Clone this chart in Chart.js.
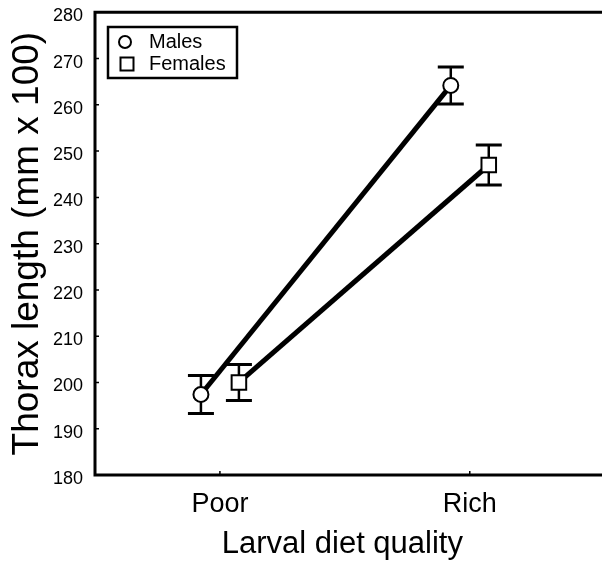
<!DOCTYPE html>
<html>
<head>
<meta charset="utf-8">
<script src="https://cdn.jsdelivr.net/npm/chart.js@4/dist/chart.umd.min.js"></script>
<style>
  html, body { margin: 0; padding: 0; background: #ffffff; }
  #wrap { width: 602px; height: 564px; }
</style>
</head>
<body>
<div id="wrap"><canvas id="chart" width="602" height="564"></canvas></div>
<script>
// Thorax length (mm x 100) by larval diet quality, mean ± error, per sex
const categories = ['Poor', 'Rich'];
const maleMeans = [197.4, 264.2];
const maleErrors = [4.1, 4.0];
const femaleMeans = [200.0, 247.0];
const femaleErrors = [3.9, 4.3];
const yTickValues = [180, 190, 200, 210, 220, 230, 240, 250, 260, 270, 280];

// horizontal offset of each sex from its category position (category units)
const DODGE = 0.076;
// pixel distance between the two category positions
const CATEGORY_STEP = 256;
const FONT = "'Liberation Sans', Arial, Helvetica, sans-serif";

const malePoints = maleMeans.map((v, i) => ({ x: i - DODGE, y: v, err: maleErrors[i] }));
const femalePoints = femaleMeans.map((v, i) => ({ x: i + DODGE, y: v, err: femaleErrors[i] }));

// Axis frame (left, top, bottom) with small inward tick marks
const framePlugin = {
  id: 'frame',
  beforeDatasetsDraw(chart) {
    const { ctx, chartArea: a, scales } = chart;
    ctx.save();
    ctx.strokeStyle = '#000';
    ctx.lineWidth = 3;
    ctx.lineJoin = 'miter';
    ctx.beginPath();
    ctx.moveTo(chart.width + 5, a.top);
    ctx.lineTo(a.left, a.top);
    ctx.lineTo(a.left, a.bottom);
    ctx.lineTo(chart.width + 5, a.bottom);
    ctx.stroke();
    ctx.lineWidth = 1.5;
    ctx.beginPath();
    yTickValues.forEach(v => {
      const y = scales.y.getPixelForValue(v);
      ctx.moveTo(a.left, y);
      ctx.lineTo(a.left + 4, y);
    });
    categories.forEach((c, i) => {
      const x = scales.x.getPixelForValue(i);
      ctx.moveTo(x, a.bottom);
      ctx.lineTo(x, a.bottom - 4);
    });
    ctx.stroke();
    ctx.restore();
  }
};

// Vertical error bars with caps, drawn beneath lines and markers
const errorBarPlugin = {
  id: 'errorBars',
  beforeDatasetsDraw(chart) {
    const { ctx, scales } = chart;
    ctx.save();
    ctx.strokeStyle = '#000';
    chart.data.datasets.forEach(ds => {
      ds.data.forEach(p => {
        const x = scales.x.getPixelForValue(p.x);
        const yTop = scales.y.getPixelForValue(p.y + p.err);
        const yBot = scales.y.getPixelForValue(p.y - p.err);
        ctx.lineWidth = 2.5;
        ctx.beginPath();
        ctx.moveTo(x, yTop);
        ctx.lineTo(x, yBot);
        ctx.stroke();
        ctx.lineWidth = 3;
        ctx.beginPath();
        ctx.moveTo(x - 13, yTop);
        ctx.lineTo(x + 13, yTop);
        ctx.moveTo(x - 13, yBot);
        ctx.lineTo(x + 13, yBot);
        ctx.stroke();
      });
    });
    ctx.restore();
  }
};

// Boxed legend in the upper left of the plot
const legendBoxPlugin = {
  id: 'legendBox',
  afterDraw(chart) {
    const ctx = chart.ctx;
    ctx.save();
    ctx.strokeStyle = '#000';
    ctx.fillStyle = '#fff';
    ctx.lineWidth = 2.5;
    ctx.fillRect(108, 27, 129, 51);
    ctx.strokeRect(108, 27, 129, 51);
    ctx.lineWidth = 2;
    ctx.beginPath();
    ctx.arc(125, 42, 6, 0, Math.PI * 2);
    ctx.stroke();
    ctx.strokeRect(120.5, 57.5, 13, 13);
    ctx.fillStyle = '#000';
    ctx.font = '20px ' + FONT;
    ctx.textBaseline = 'middle';
    ctx.textAlign = 'left';
    ctx.fillText(chart.data.datasets[0].label, 149, 42);
    ctx.fillText(chart.data.datasets[1].label, 149, 64);
    ctx.restore();
  }
};

new Chart(document.getElementById('chart'), {
  type: 'scatter',
  data: {
    datasets: [
      {
        label: 'Males',
        data: malePoints,
        showLine: true,
        borderColor: '#000',
        borderWidth: 5,
        pointStyle: 'circle',
        pointRadius: 7.5,
        pointBorderWidth: 2,
        pointBackgroundColor: '#fff',
        pointBorderColor: '#000'
      },
      {
        label: 'Females',
        data: femalePoints,
        showLine: true,
        borderColor: '#000',
        borderWidth: 5,
        pointStyle: 'rect',
        pointRadius: 10.3,
        pointBorderWidth: 2,
        pointBackgroundColor: '#fff',
        pointBorderColor: '#000'
      }
    ]
  },
  options: {
    responsive: false,
    animation: false,
    devicePixelRatio: 1,
    layout: { padding: { top: 12, right: 0, left: 0, bottom: 0 } },
    plugins: {
      legend: { display: false },
      tooltip: { enabled: false }
    },
    scales: {
      x: {
        type: 'linear',
        min: -0.5,
        max: 1.48,
        // keep a fixed spacing between categories; the plot runs off the right edge
        afterDataLimits: s => { s.min = -0.5; s.max = -0.5 + s.width / CATEGORY_STEP; },
        afterBuildTicks: s => { s.ticks = categories.map((c, i) => ({ value: i })); },
        afterFit: s => { s.height = 89; s.paddingLeft = 0; s.paddingRight = 0; },
        grid: { display: false, drawTicks: false },
        border: { display: false },
        ticks: {
          callback: v => categories[v],
          color: '#000',
          font: { family: FONT, size: 27 },
          padding: 13,
          maxRotation: 0,
          autoSkip: false
        },
        title: {
          display: true,
          text: 'Larval diet quality',
          color: '#000',
          font: { family: FONT, size: 31 },
          padding: { top: 0, bottom: 1 }
        }
      },
      y: {
        min: 180,
        max: 280,
        afterBuildTicks: s => { s.ticks = yTickValues.map(v => ({ value: v })); },
        // fixed axis width; the tick labels may overhang the plot's top and bottom
        afterFit: s => { s.width = 95; s.paddingTop = 0; s.paddingBottom = 0; },
        grid: { display: false, drawTicks: false },
        border: { display: false },
        ticks: {
          color: '#000',
          font: { family: FONT, size: 18 },
          padding: 12,
          labelOffset: 4
        },
        title: {
          display: true,
          text: 'Thorax length (mm x 100)',
          color: '#000',
          font: { family: FONT, size: 37 },
          padding: { top: 6, bottom: 0 }
        }
      }
    }
  },
  plugins: [framePlugin, errorBarPlugin, legendBoxPlugin]
});
</script>
</body>
</html>
